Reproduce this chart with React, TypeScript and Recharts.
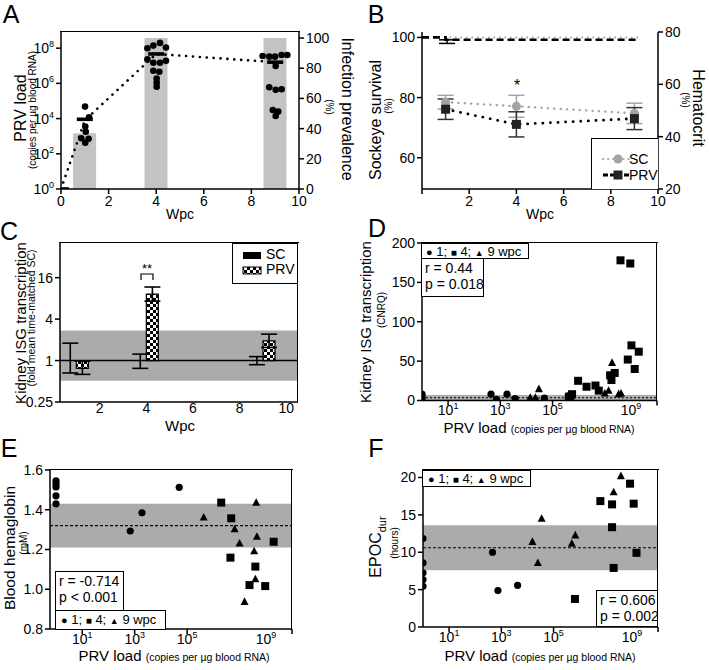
import React from 'react';
import {
  ComposedChart,
  Bar,
  Line,
  Scatter,
  XAxis,
  YAxis,
  ErrorBar,
  ReferenceArea,
  ReferenceLine,
} from 'recharts';

const FONT = '"Liberation Sans", Arial, Helvetica, sans-serif';
const GREY_BAR = '#c3c3c3';
const BAND = '#ababab';
const SC_GREY = '#a3a3a3';

// ---------- A: PRV load + infection prevalence ----------
const prevWeeks = [1, 4, 9];
const prevalence = [37, 100, 100];
const meanWeeks = [0, 1, 4, 9];
const meanLoad = [1, 8e3, 4.7e7, 1.6e7];
const medianLoad = [1, 9.1e3, 4.7e7, 1.6e7];
const wk1Pos = [1.01, 1.18, 1.02, 1.04, 0.85, 1.16, 1.02];
const wk1Load = [4.8e4, 1.2e4, 3.5e3, 1.8e3, 7.6e2, 7.2e2, 4.3e2];
const wk4Pos = [3.63, 3.88, 4.16, 4.41, 3.63, 3.88, 4.16, 4.41, 3.88, 4.13, 4.02, 4.02, 4.02];
const wk4Load = [1.0e8, 1.4e8, 2.0e8, 1.1e8, 2.3e7, 1.5e7, 1.5e7, 1.9e7, 5.2e6, 4.6e6, 1.9e6, 1.1e6, 6.5e5];
const wk9Pos = [8.47, 8.75, 8.99, 9.27, 9.51, 9.02, 8.75, 9.02, 9.27, 8.9, 9.13, 9.02];
const wk9Load = [3.6e7, 3.3e7, 3.3e7, 4.1e7, 4.1e7, 9.8e6, 6.0e5, 4.3e5, 4.6e5, 3.1e4, 2.5e4, 1.4e4];

// ---------- B: survival + hematocrit ----------
const survWeeks = [0, 1, 9.2];
const survSc = [100, 100, 100];
const survPrv = [100, 99.2, 99.2];
const survPrvErr = 1.2;
const hctWeeks = [1, 4, 9];
const hctSc = [53.2, 51.6, 48.9];
const hctScErr = [2.6, 4.2, 3.9];
const hctPrv = [50.5, 44.7, 46.9];
const hctPrvErr = [3.9, 4.8, 4.2];

// ---------- C: kidney ISG fold change ----------
const cWeeks = [1, 4, 9];
const cSc = [1.0, 1.0, 1.0];
const cScLo = [0.66, 0.77, 0.87];
const cScHi = [1.79, 1.24, 1.14];
const cPrv = [0.77, 9.25, 1.93];
const cPrvLo = [0.63, 7.3, 1.55];
const cPrvHi = [0.98, 11.7, 2.42];

// ---------- D: ISG vs load ----------
const dWk1Load = [1, 1, 1, 4.4e2, 7.1e2, 1.8e3, 3.7e3, 4.9e4];
const dWk1Isg = [8, 5, 3, 8, 1.5, 8, 2.5, 3];
const dWk4Load = [4.2e5, 4.8e5, 5.6e5, 9.5e5, 2.0e6, 4.4e6, 5.9e6, 1.6e7, 1.8e7, 2.4e7, 4.0e7, 9.5e7, 1.05e8, 2.0e8, 7.6e7, 1.4e8];
const dWk4Isg = [4.8, 5, 8, 25, 17.5, 19, 12.5, 32, 26, 35, 178, 174, 70, 62, 52, 40];
const dWk9Load = [1.4e4, 2.2e4, 3.0e4, 4.2e5, 1.0e7, 1.4e7, 1.9e7, 3.4e7, 4.2e7];
const dWk9Isg = [3.6, 3.6, 14.6, 7, 9, 12.5, 48, 8.3, 9.1];

// ---------- E: hemoglobin vs load ----------
const eWk1Load = [1, 1, 1, 1, 1, 6.8e2, 1.9e3, 5.0e4];
const eWk1Hb = [1.545, 1.53, 1.515, 1.47, 1.43, 1.293, 1.385, 1.513];
const eWk4Load = [2.0e6, 4.8e6, 4.5e6, 4.0e7, 2.4e7, 9.5e7, 2.0e8];
const eWk4Hb = [1.436, 1.357, 1.159, 1.114, 1.021, 1.016, 1.239];
const eWk9Load = [4.3e5, 6.5e6, 1.0e7, 4.3e7, 4.6e7, 3.6e7, 4.0e7, 1.55e7];
const eWk9Hb = [1.362, 1.303, 1.231, 1.436, 1.265, 1.192, 1.051, 0.937];

// ---------- F: EPOC duration vs load ----------
const fWk1Load = [1, 1, 1, 1, 1, 4.6e2, 7.4e2, 4.2e3];
const fWk1Epoc = [11.84, 8.58, 7.24, 6.34, 5.44, 10.0, 4.87, 5.58];
const fWk4Load = [6.2e6, 1.74e7, 1.74e7, 2.0e7, 8.5e7, 1.17e8, 1.5e8, 6.6e5];
const fWk4Epoc = [16.84, 16.4, 13.35, 7.9, 19.17, 16.5, 9.92, 3.75];
const fWk9Load = [1.55e4, 3.5e4, 2.5e4, 5.0e5, 6.8e5, 2.0e7, 3.8e7];
const fWk9Epoc = [11.4, 14.5, 8.58, 11.17, 12.28, 18.05, 20.2];

const zip = (xs: number[], ys: number[]) => xs.map((x, i) => ({ x, y: ys[i] }));

type Box = { x: number; y: number; w: number; h: number };
const PAD = 14;
function frame(b: Box, yl: number, yr: number, xh: number) {
  return {
    style: { position: 'absolute' as const, left: b.x - yl - PAD, top: b.y - PAD },
    width: b.w + yl + yr + 2 * PAD,
    height: b.h + xh + 2 * PAD,
    margin: { top: PAD, right: PAD, bottom: PAD, left: PAD },
  };
}

const empty = () => <g />;
const line = { stroke: '#000', strokeWidth: 1.5 };
const tick = { fill: '#000', fontSize: 14 };
const axisCommon = { axisLine: line, tickLine: line, tickSize: 5, tick };
// same space as a real axis, but nothing drawn (used under the bar layers)
const ghost = { axisLine: false, tickLine: false, tick: empty };

function PowTick(props: any) {
  const { x, y, payload, textAnchor } = props;
  const e = Math.round(Math.log10(payload.value));
  const isY = textAnchor === 'end';
  return (
    <text x={x} y={y} textAnchor={textAnchor} fill="#000" fontSize={14} dy={isY ? '0.36em' : '0.71em'}>
      10
      <tspan dy={-6} fontSize={9}>
        {e}
      </tspan>
    </text>
  );
}

const dot = (r: number, fill = '#000') => (p: any) => <circle cx={p.cx} cy={p.cy} r={r} fill={fill} />;
const square = (s: number, fill = '#000') => (p: any) => (
  <rect x={p.cx - s / 2} y={p.cy - s / 2} width={s} height={s} fill={fill} />
);
const triangle = (s: number) => (p: any) => (
  <polygon
    points={`${p.cx},${p.cy - s * 0.55} ${p.cx - s / 2},${p.cy + s * 0.4} ${p.cx + s / 2},${p.cy + s * 0.4}`}
    fill="#000"
  />
);
const hbar = (p: any) => <rect x={p.cx - 8} y={p.cy - 1.8} width={16} height={3.6} fill="#000" />;

function T({ x, y, rot = 0, size, children }: any) {
  return (
    <div
      style={{
        position: 'absolute',
        left: x,
        top: y,
        transform: `translate(-50%,-50%) rotate(${rot}deg)`,
        fontSize: size,
        lineHeight: 1,
        whiteSpace: 'nowrap',
      }}
    >
      {children}
    </div>
  );
}

function Border({ b, top = true, right = true }: { b: Box; top?: boolean; right?: boolean }) {
  return (
    <>
      {top && (
        <div style={{ position: 'absolute', left: b.x - 0.75, top: b.y - 0.75, width: b.w + 1.5, borderTop: '1.5px solid #000' }} />
      )}
      {right && (
        <div style={{ position: 'absolute', left: b.x + b.w - 0.75, top: b.y - 0.75, height: b.h + 1.5, borderLeft: '1.5px solid #000' }} />
      )}
    </>
  );
}

function TextBox({ x, y, w, h, children, pad = 3, size = 14, lh = 16 }: any) {
  return (
    <div
      style={{
        position: 'absolute',
        left: x,
        top: y,
        width: w,
        height: h,
        boxSizing: 'border-box',
        border: '1.5px solid #000',
        background: '#fff',
        padding: `1px ${pad}px 0`,
        fontSize: size,
        lineHeight: `${lh}px`,
        whiteSpace: 'nowrap',
        overflow: 'hidden',
      }}
    >
      {children}
    </div>
  );
}

const sym = (s: number) => ({ fontSize: s, lineHeight: 1 });
const WpcKey = () => (
  <span>
    <span style={sym(11)}>●</span> 1; <span style={sym(10)}>■</span> 4; <span style={sym(9)}>▲</span> 9 wpc
  </span>
);

const LoadTitle = () => (
  <span>
    PRV load <span style={{ fontSize: 10.5 }}>(copies per µg blood RNA)</span>
  </span>
);

// ---------------- panel A ----------------
const boxA: Box = { x: 61, y: 32, w: 238, h: 157 };
function PanelA() {
  const f = frame(boxA, 40, 40, 30);
  const prevRows = prevWeeks.map((x, i) => ({ x, prev: prevalence[i] }));
  const meanRows = meanWeeks.map((x, i) => ({ x, load: meanLoad[i] }));
  const medianRows = meanWeeks.map((x, i) => ({ x, load: medianLoad[i] }));
  const pts = [
    ...wk1Pos.map((x, i) => ({ x, load: wk1Load[i] })),
    ...wk4Pos.map((x, i) => ({ x, load: wk4Load[i] })),
    ...wk9Pos.map((x, i) => ({ x, load: wk9Load[i] })),
  ];
  return (
    <>
      {/* prevalence bars, drawn on their own layer underneath */}
      <div style={f.style}>
        <ComposedChart width={f.width} height={f.height} margin={f.margin} data={prevRows}>
          <XAxis type="number" dataKey="x" domain={[0, 10]} ticks={[0, 2, 4, 6, 8, 10]} height={30} allowDataOverflow {...ghost} />
          <YAxis yAxisId="ghost" domain={[0, 1]} width={40} {...ghost} />
          <YAxis yAxisId="prev" orientation="right" type="number" domain={[0, 104]} ticks={[0, 20, 40, 60, 80, 100]} width={40} allowDataOverflow {...ghost} />
          <Bar yAxisId="prev" dataKey="prev" fill={GREY_BAR} barSize={23} isAnimationActive={false} />
        </ComposedChart>
      </div>
      <div style={f.style}>
        <ComposedChart width={f.width} height={f.height} margin={f.margin}>
          <XAxis type="number" dataKey="x" domain={[0, 10]} ticks={[0, 2, 4, 6, 8, 10]} height={30} allowDataOverflow {...axisCommon} />
          <YAxis yAxisId="load" scale="log" domain={[1, 8.3e8]} ticks={[1, 1e2, 1e4, 1e6, 1e8]} width={40} allowDataOverflow {...axisCommon} tick={<PowTick />} />
          <YAxis yAxisId="prev" orientation="right" type="number" domain={[0, 104]} ticks={[0, 20, 40, 60, 80, 100]} width={40} allowDataOverflow {...axisCommon} />
          <Line
            yAxisId="load"
            data={meanRows}
            dataKey="load"
            stroke="#000"
            strokeWidth={2.6}
            strokeDasharray="0.1 6.8"
            strokeLinecap="round"
            dot={false}
            isAnimationActive={false}
          />
          <Scatter yAxisId="load" data={pts} dataKey="load" shape={dot(3.3)} isAnimationActive={false} />
          <Scatter yAxisId="load" data={medianRows} dataKey="load" shape={hbar} isAnimationActive={false} />
        </ComposedChart>
      </div>
      <Border b={boxA} right={false} />
      <T x={11} y={14} size={25}>A</T>
      <T x={21} y={108} rot={-90} size={16}>PRV load</T>
      <T x={33} y={110} rot={-90} size={10}>(copies per µg blood RNA)</T>
      <T x={347} y={109} rot={90} size={16}>Infection prevalence</T>
      <T x={329} y={107} rot={90} size={10}>(%)</T>
      <T x={180} y={214} size={14}>Wpc</T>
    </>
  );
}

// ---------------- panel B ----------------
const boxB: Box = { x: 422, y: 32, w: 236, h: 157 };
function PanelB() {
  const f = frame(boxB, 40, 40, 30);
  const survRows = survWeeks.map((x, i) => ({ x, sc: survSc[i], prv: survPrv[i] }));
  const survErrRows = [{ x: 1.06, y: survPrv[1], err: [survPrvErr, 0] }];
  const hctRows = hctWeeks.map((x, i) => ({
    x,
    sc: hctSc[i],
    scErr: hctScErr[i],
    prv: hctPrv[i],
    prvErr: hctPrvErr[i],
  }));
  return (
    <>
      <div style={f.style}>
        <ComposedChart width={f.width} height={f.height} margin={f.margin} data={survRows}>
          <XAxis
            type="number"
            dataKey="x"
            domain={[0, 10]}
            ticks={[0, 2, 4, 6, 8, 10]}
            tickFormatter={(v: number) => (v === 0 ? '' : String(v))}
            height={30}
            {...axisCommon}
          />
          <YAxis yAxisId="surv" domain={[49.6, 101.8]} ticks={[60, 80, 100]} width={40} allowDataOverflow {...axisCommon} />
          <YAxis yAxisId="hct" orientation="right" domain={[20, 80]} ticks={[20, 40, 60, 80]} width={40} allowDataOverflow {...axisCommon} />
          <Line yAxisId="surv" dataKey="sc" type="stepAfter" stroke={SC_GREY} strokeWidth={2} strokeDasharray="1.5 4" dot={false} isAnimationActive={false} />
          <Line yAxisId="surv" dataKey="prv" type="stepAfter" stroke="#000" strokeWidth={2.6} strokeDasharray="7 4" dot={false} isAnimationActive={false} />
          <Scatter yAxisId="surv" data={survErrRows} dataKey="y" shape={empty} isAnimationActive={false}>
            <ErrorBar dataKey="err" direction="y" width={8} stroke="#000" strokeWidth={1.5} />
          </Scatter>
          <Line
            yAxisId="hct"
            data={hctRows}
            dataKey="sc"
            stroke={SC_GREY}
            strokeWidth={2.4}
            strokeDasharray="0.1 6.3"
            strokeLinecap="round"
            dot={dot(4.5, SC_GREY)}
            isAnimationActive={false}
          >
            <ErrorBar dataKey="scErr" direction="y" width={8} stroke={SC_GREY} strokeWidth={1.5} />
          </Line>
          <Line
            yAxisId="hct"
            data={hctRows}
            dataKey="prv"
            stroke="#000"
            strokeWidth={2.8}
            strokeDasharray="0.1 7.5"
            strokeLinecap="round"
            dot={square(9, '#222')}
            isAnimationActive={false}
          >
            <ErrorBar dataKey="prvErr" direction="y" width={8} stroke="#333" strokeWidth={1.5} />
          </Line>
        </ComposedChart>
      </div>
      <T x={517} y={86} size={16}>*</T>
      <div
        style={{
          position: 'absolute',
          left: 591,
          top: 138,
          width: 67,
          height: 51,
          boxSizing: 'border-box',
          border: '1.5px solid #000',
          borderRight: 'none',
          borderBottom: 'none',
          background: '#fff',
        }}
      >
        <svg width={30} height={40} style={{ position: 'absolute', left: 10, top: 10 }}>
          <line x1={1} y1={10} x2={28} y2={10} stroke={SC_GREY} strokeWidth={2.2} strokeDasharray="0.1 5" strokeLinecap="round" />
          <circle cx={16} cy={10} r={4.5} fill={SC_GREY} />
          <line x1={1} y1={26} x2={28} y2={26} stroke="#000" strokeWidth={2.8} strokeDasharray="5 2" />
          <rect x={11.5} y={21.5} width={9} height={9} fill="#222" />
        </svg>
        <div style={{ position: 'absolute', left: 37, top: 12, fontSize: 14, lineHeight: '16px' }}>
          SC
          <br />
          PRV
        </div>
      </div>
      <T x={376} y={14} size={25}>B</T>
      <T x={376} y={120} rot={-90} size={16}>Sockeye survival</T>
      <T x={389} y={106} rot={-90} size={10}>(%)</T>
      <T x={698} y={108} rot={90} size={16}>Hematocrit</T>
      <T x={685} y={100} rot={90} size={10}>(%)</T>
      <T x={540} y={214} size={14}>Wpc</T>
    </>
  );
}

// ---------------- panel C ----------------
const boxC: Box = { x: 60, y: 243, w: 238, h: 159 };
function PanelC() {
  const f = frame(boxC, 40, 0, 30);
  const rows = cWeeks.map((x, i) => ({ x, sc: [1, cSc[i]], prv: [1, cPrv[i]] }));
  const errRows = [
    ...cWeeks.map((w, i) => ({ x: w - 0.26, y: cSc[i], err: [cSc[i] - cScLo[i], cScHi[i] - cSc[i]] })),
    ...cWeeks.map((w, i) => ({ x: w + 0.26, y: cPrv[i], err: [cPrv[i] - cPrvLo[i], cPrvHi[i] - cPrv[i]] })),
  ];
  const yProps = { scale: 'log' as const, domain: [0.25, 51], ticks: [0.25, 1, 4, 16], width: 40, allowDataOverflow: true };
  const xProps = { type: 'number' as const, dataKey: 'x', domain: [0.3, 10.5], ticks: [2, 4, 6, 8, 10], height: 30, allowDataOverflow: true };
  return (
    <>
      {/* band and bars underneath */}
      <div style={f.style}>
        <ComposedChart width={f.width} height={f.height} margin={f.margin} data={rows} barGap={0}>
          <XAxis {...xProps} {...ghost} />
          <YAxis {...yProps} {...ghost} />
          <ReferenceArea y1={0.51} y2={2.73} fill={BAND} fillOpacity={1} stroke="none" />
          <Bar dataKey="sc" fill="#000" barSize={12} isAnimationActive={false} />
          <Bar dataKey="prv" fill="url(#checker)" stroke="#000" strokeWidth={1.2} barSize={12} isAnimationActive={false} />
        </ComposedChart>
      </div>
      <div style={f.style}>
        <ComposedChart width={f.width} height={f.height} margin={f.margin}>
          <XAxis {...xProps} {...axisCommon} tickSize={0} tickMargin={1} tickLine={false} />
          <YAxis {...yProps} {...axisCommon} tickFormatter={(v: number) => String(v)} />
          <ReferenceLine y={1} stroke="#000" strokeWidth={1.5} />
          <Scatter data={errRows} dataKey="y" shape={empty} isAnimationActive={false}>
            <ErrorBar dataKey="err" direction="y" width={8} stroke="#000" strokeWidth={1.6} />
          </Scatter>
        </ComposedChart>
      </div>
      <Border b={boxC} />
      <svg width={20} height={12} style={{ position: 'absolute', left: 137, top: 270 }}>
        <path d="M4 10 V4 H16 V10" fill="none" stroke="#000" strokeWidth={1.2} />
      </svg>
      <T x={147} y={268} size={13}>**</T>
      <div
        style={{
          position: 'absolute',
          left: 232,
          top: 243,
          width: 66,
          height: 41,
          boxSizing: 'border-box',
          border: '1.5px solid #000',
          background: '#fff',
        }}
      >
        <svg width={22} height={36} style={{ position: 'absolute', left: 8, top: 5 }}>
          <rect x={2} y={3} width={18} height={7} fill="#000" />
          <rect x={2} y={18} width={18} height={7} fill="url(#checker)" stroke="#000" strokeWidth={1} />
        </svg>
        <div style={{ position: 'absolute', left: 33, top: 3, fontSize: 14, lineHeight: '15px' }}>
          SC
          <br />
          PRV
        </div>
      </div>
      <T x={9} y={231} size={25}>C</T>
      <T x={20} y={323} rot={-90} size={15}>Kidney ISG transcription</T>
      <T x={31} y={318} rot={-90} size={10.5}>(fold mean time-matched SC)</T>
      <T x={180} y={425} size={15}>Wpc</T>
    </>
  );
}

// ---------------- correlation panels ----------------
function CorrChart({ b, xDomain, yDomain, yTicks, yFmt, band, mean, meanDash, s1, s4, s9 }: any) {
  const f = frame(b, 40, 0, 30);
  return (
    <div style={f.style}>
      <ComposedChart width={f.width} height={f.height} margin={f.margin}>
        <XAxis
          type="number"
          dataKey="x"
          scale="log"
          domain={xDomain}
          ticks={[10, 1e3, 1e5, 1e7, 1e9]}
          height={30}
          allowDataOverflow
          {...axisCommon}
          tickMargin={0}
          tick={<PowTick />}
        />
        <YAxis type="number" dataKey="y" domain={yDomain} ticks={yTicks} tickFormatter={yFmt} width={40} allowDataOverflow {...axisCommon} />
        <ReferenceArea y1={band[0]} y2={band[1]} fill={BAND} fillOpacity={1} stroke="none" />
        <ReferenceLine y={mean} stroke="#000" strokeWidth={1.2} strokeDasharray={meanDash} />
        <Scatter data={s1} shape={dot(3.6)} isAnimationActive={false} />
        <Scatter data={s4} shape={square(8)} isAnimationActive={false} />
        <Scatter data={s9} shape={triangle(8)} isAnimationActive={false} />
      </ComposedChart>
    </div>
  );
}

const boxD: Box = { x: 422, y: 243, w: 235, h: 157.5 };
function PanelD() {
  return (
    <>
      <CorrChart
        b={boxD}
        xDomain={[1, 1e9]}
        yDomain={[0, 200]}
        yTicks={[0, 50, 100, 150, 200]}
        band={[0.5, 7]}
        mean={3.5}
        meanDash="2 2"
        s1={zip(dWk1Load, dWk1Isg)}
        s4={zip(dWk4Load, dWk4Isg)}
        s9={zip(dWk9Load, dWk9Isg)}
      />
      <Border b={boxD} />
      <TextBox x={421} y={243} w={108} h={16} pad={4} size={13} lh={13}>
        <WpcKey />
      </TextBox>
      <TextBox x={421} y={258} w={63} h={39} pad={3}>
        r = 0.44
        <br />p = 0.018
      </TextBox>
      <T x={377} y={228} size={25}>D</T>
      <T x={365} y={322} rot={-90} size={15}>Kidney ISG transcription</T>
      <T x={382} y={310} rot={-90} size={10}>(CNRQ)</T>
      <T x={539} y={427} size={15}><LoadTitle /></T>
    </>
  );
}

const boxE: Box = { x: 50, y: 470, w: 242, h: 159 };
function PanelE() {
  return (
    <>
      <CorrChart
        b={boxE}
        xDomain={[0.59, 1e9]}
        yDomain={[0.8, 1.6]}
        yTicks={[0.8, 1.0, 1.2, 1.4, 1.6]}
        yFmt={(v: number) => v.toFixed(1)}
        band={[1.21, 1.43]}
        mean={1.32}
        meanDash="3 2"
        s1={zip(eWk1Load, eWk1Hb)}
        s4={zip(eWk4Load, eWk4Hb)}
        s9={zip(eWk9Load, eWk9Hb)}
      />
      <Border b={boxE} />
      <TextBox x={55} y={571} w={69} h={40} pad={3}>
        r = -0.714
        <br />p &lt; 0.001
      </TextBox>
      <TextBox x={55} y={610} w={111} h={20} pad={5} size={13} lh={15}>
        <WpcKey />
      </TextBox>
      <T x={9} y={448} size={25}>E</T>
      <T x={10} y={548} rot={-90} size={15.5}>Blood hemaglobin</T>
      <T x={24} y={543} rot={-90} size={10}>(mM)</T>
      <T x={174} y={655} size={15}><LoadTitle /></T>
    </>
  );
}

const boxF: Box = { x: 423, y: 470, w: 235, h: 157 };
function PanelF() {
  return (
    <>
      <CorrChart
        b={boxF}
        xDomain={[1, 1e9]}
        yDomain={[0, 21]}
        yTicks={[0, 5, 10, 15, 20]}
        band={[7.6, 13.6]}
        mean={10.6}
        meanDash="3 2"
        s1={zip(fWk1Load, fWk1Epoc)}
        s4={zip(fWk4Load, fWk4Epoc)}
        s9={zip(fWk9Load, fWk9Epoc)}
      />
      <Border b={boxF} />
      <TextBox x={422} y={470} w={109} h={17} pad={5} size={13} lh={14}>
        <WpcKey />
      </TextBox>
      <TextBox x={596} y={590} w={62} h={37} pad={3}>
        r = 0.606
        <br />p = 0.002
      </TextBox>
      <T x={376} y={448} size={25}>F</T>
      <T x={378} y={547} rot={-90} size={16}>
        EPOC<sub style={{ fontSize: 11 }}>dur</sub>
      </T>
      <T x={395} y={543} rot={-90} size={10}>(hours)</T>
      <T x={540} y={655} size={15}><LoadTitle /></T>
    </>
  );
}

export default function App() {
  return (
    <div
      style={{
        position: 'absolute',
        left: 0,
        top: 0,
        width: 709,
        height: 670,
        background: '#fff',
        color: '#000',
        fontFamily: FONT,
        overflow: 'hidden',
      }}
    >
      <svg width={0} height={0} style={{ position: 'absolute' }}>
        <defs>
          <pattern id="checker" width={6} height={6} patternUnits="userSpaceOnUse">
            <rect width={6} height={6} fill="#fff" />
            <rect width={3} height={3} fill="#000" />
            <rect x={3} y={3} width={3} height={3} fill="#000" />
          </pattern>
        </defs>
      </svg>
      <PanelA />
      <PanelB />
      <PanelC />
      <PanelD />
      <PanelE />
      <PanelF />
    </div>
  );
}
